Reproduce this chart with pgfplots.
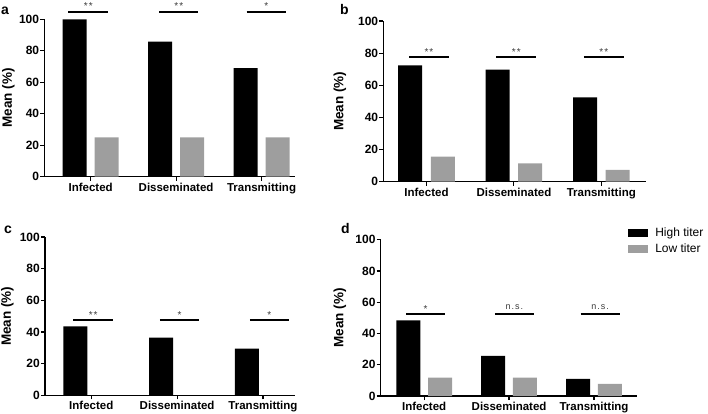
\documentclass[border=0pt]{standalone}
\usepackage{fontspec}
\setmainfont{Liberation Sans}
\usepackage{pgfplots}
\pgfplotsset{compat=1.18}
\definecolor{lowgray}{RGB}{158,158,158}
\definecolor{stargray}{RGB}{60,60,60}
\pgfplotsset{
 panel/.style={
  scale only axis, anchor=south west,
  ymin=0, ymax=100, ytick={0,20,...,100},
  xtick={0,1,2}, xticklabels={Infected,Disseminated,Transmitting},
  axis lines=left, axis line style={-, line width=1.2pt},
  tick align=outside, major tick length=4pt,
  tick style={black, line width=1.2pt},
  xticklabel style={font=\fontsize{11.5}{13}\selectfont\bfseries, inner sep=2pt},
  yticklabel style={font=\fontsize{12}{13}\selectfont\bfseries, inner sep=1pt},
  /pgf/number format/assume math mode=true,
  ylabel={Mean (\%)},
  ylabel style={at={([xshift=-#1]axis description cs:0,0.5)}, anchor=center, rotate=0, font=\fontsize{13.5}{15}\selectfont\bfseries},
  ybar, bar width=24pt,
  clip=false,
 },
}
\newcommand{\sig}[4]{\draw[line width=2.2pt] (axis cs:#1,#3) -- (axis cs:#2,#3) node[midway, anchor=base, yshift=1.8pt, font=\fontsize{10}{12}\selectfont, text=stargray, inner sep=0pt] {#4};}
\newcommand{\ns}[3]{\draw[line width=2.2pt] (axis cs:#1,#3) -- (axis cs:#2,#3) node[midway, anchor=base, yshift=4.5pt, font=\fontsize{9}{11}\selectfont, text=stargray, inner sep=0pt] {n\kern1pt.\kern1pt s\kern1pt.};}
\begin{document}
\begin{tikzpicture}[x=1pt,y=1pt]
\path[use as bounding box] (0,0) rectangle (708,414);
% panel letters
\node[font=\fontsize{14}{16}\selectfont\bfseries, anchor=base west, inner sep=0pt] at (1,399) {a};
\node[font=\fontsize{14}{16}\selectfont\bfseries, anchor=base west, inner sep=0pt] at (340,399) {b};
\node[font=\fontsize{14}{16}\selectfont\bfseries, anchor=base west, inner sep=0pt] at (4,180) {c};
\node[font=\fontsize{14}{16}\selectfont\bfseries, anchor=base west, inner sep=0pt] at (341,180) {d};

% panel a
\begin{axis}[panel=36pt, at={(44.3pt,237.3pt)}, width=250.7pt, height=157.4pt, xmin=-0.543, xmax=2.392]
\addplot[fill=black, draw=none, bar shift=-16pt] coordinates {(0,100) (1,85.8) (2,68.9)};
\addplot[fill=lowgray, draw=none, bar shift=16pt] coordinates {(0,25) (1,25) (2,25)};
\sig{-0.262}{0.206}{104.8}{*\kern1pt*}
\sig{0.803}{1.260}{104.8}{*\kern1pt*}
\sig{1.827}{2.287}{104.8}{*}
\end{axis}

% panel b
\begin{axis}[panel=43.3pt, at={(383.3pt,232.3pt)}, width=262.4pt, height=160.7pt, xmin=-0.494, xmax=2.508]
\addplot[fill=black, draw=none, bar shift=-16.3pt] coordinates {(0,72.4) (1,69.7) (2,52.5)};
\addplot[fill=lowgray, draw=none, bar shift=16.3pt] coordinates {(0,15.6) (1,11.4) (2,7.3)};
\sig{-0.2}{0.257}{77.6}{*\kern1pt*}
\sig{0.8}{1.257}{77.6}{*\kern1pt*}
\sig{1.8}{2.257}{77.6}{*\kern1pt*}
\end{axis}

% panel c
\begin{axis}[panel=37.5pt, at={(45pt,18.7pt)}, width=250pt, height=158.3pt, xmin=-0.539, xmax=2.373]
\addplot[fill=black, draw=none, bar shift=-16pt] coordinates {(0,43.6) (1,36.4) (2,29.5)};
\sig{-0.21}{0.256}{47.4}{*\kern1pt*}
\sig{0.8}{1.256}{47.4}{*}
\sig{1.848}{2.3}{47.4}{*}
\end{axis}

% panel d
\begin{axis}[panel=40.7pt, at={(380.7pt,18pt)}, width=256.6pt, height=156.3pt, xmin=-0.512, xmax=2.51,
  legend style={at={(axis description cs:0.964,1.083)}, anchor=north west, draw=none, fill=none,
    font=\fontsize{12}{14}\selectfont, row sep=4pt, inner sep=0pt, nodes={inner sep=1pt},
    /tikz/every odd column/.append style={column sep=6pt}},
  legend cell align=left]
\addplot[fill=black, draw=none, bar shift=-15.9pt, legend image code/.code={\path[fill=black] (0pt,-3.8pt) rectangle (20pt,3.8pt);}] coordinates {(0,48.4) (1,25.6) (2,10.9)};
\addlegendentry{High titer}
\addplot[fill=lowgray, draw=none, bar shift=15.9pt, legend image code/.code={\path[fill=lowgray] (0pt,-3.8pt) rectangle (20pt,3.8pt);}] coordinates {(0,11.7) (1,11.7) (2,7.7)};
\addlegendentry{Low titer}
\sig{-0.211}{0.245}{52.3}{*}
\ns{0.832}{1.291}{52.3}
\ns{1.843}{2.303}{52.3}
\end{axis}
\end{tikzpicture}
\end{document}
